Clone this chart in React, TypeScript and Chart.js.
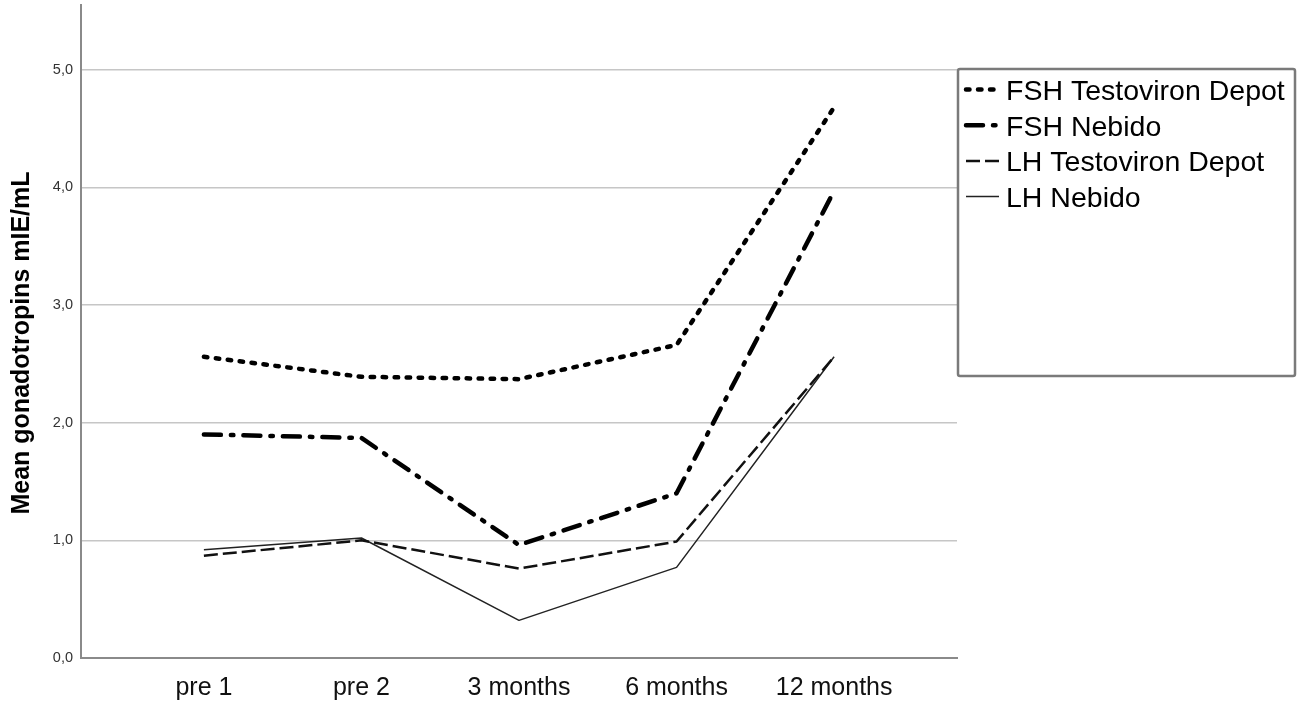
import React, { useEffect, useRef } from 'react'
import { Chart, registerables } from 'chart.js'
Chart.register(...registerables)

const categories = ['pre 1', 'pre 2', '3 months', '6 months', '12 months']
const yTicks = [0, 1, 2, 3, 4, 5]
const fshTestoviron = [2.56, 2.39, 2.37, 2.66, 4.68]
const fshNebido = [1.90, 1.87, 0.96, 1.40, 3.97]
const lhTestoviron = [0.87, 1.00, 0.76, 0.99, 2.56]
const lhNebido = [0.92, 1.02, 0.32, 0.77, 2.56]

const FONT = 'Arial, "Liberation Sans", sans-serif'
const yTitle = 'Mean gonadotropins mIE/mL'

const pts = (arr: number[]) => arr.map((v, i) => ({ x: i, y: v }))

// legend box + rotated y title, drawn by hand like the SPSS output
const extras = {
  id: 'extras',
  afterDraw(chart: any) {
    const ctx = chart.ctx as CanvasRenderingContext2D
    ctx.save()
    // y title
    ctx.translate(29, 343)
    ctx.rotate(-Math.PI / 2)
    ctx.font = `bold 25px ${FONT}`
    ctx.fillStyle = '#000'
    ctx.textAlign = 'center'
    ctx.textBaseline = 'alphabetic'
    ctx.fillText(yTitle, 0, 0)
    ctx.restore()

    ctx.save()
    ctx.strokeStyle = '#7a7a7a'
    ctx.lineWidth = 2.5
    ctx.beginPath()
    ctx.roundRect(958, 69, 337, 307, 2)
    ctx.stroke()
    ctx.font = `28.5px ${FONT}`
    ctx.textBaseline = 'alphabetic'
    ctx.textAlign = 'left'
    chart.data.datasets.forEach((ds: any, i: number) => {
      const cy = 89.5 + i * 35.7
      ctx.save()
      ctx.strokeStyle = ds.borderColor
      ctx.lineWidth = ds.borderWidth
      ctx.lineCap = ds.borderCapStyle || 'butt'
      ctx.setLineDash(ds.borderDash || [])
      ctx.beginPath()
      ctx.moveTo(966, cy)
      ctx.lineTo(999, cy)
      ctx.stroke()
      ctx.restore()
      ctx.fillStyle = '#000'
      ctx.fillText(ds.label, 1006, cy + 10.5)
    })
    ctx.restore()
  }
}

export default function App() {
  const ref = useRef<HTMLCanvasElement | null>(null)
  useEffect(() => {
    document.body.style.margin = '0'
    document.body.style.overflow = 'hidden'
    if (!ref.current) return
    const chart = new Chart(ref.current, {
      type: 'line',
      data: {
        datasets: [
          { label: 'FSH Testoviron Depot', data: pts(fshTestoviron), borderColor: '#000', borderWidth: 4.5, borderDash: [3.5, 8.5], borderCapStyle: 'round' },
          { label: 'FSH Nebido', data: pts(fshNebido), borderColor: '#000', borderWidth: 4.5, borderDash: [17, 10, 2.5, 10], borderCapStyle: 'round' },
          { label: 'LH Testoviron Depot', data: pts(lhTestoviron), borderColor: '#111', borderWidth: 2.5, borderDash: [14, 5] },
          { label: 'LH Nebido', data: pts(lhNebido), borderColor: '#222', borderWidth: 1.5 },
        ] as any
      },
      options: {
        responsive: true,
        maintainAspectRatio: false,
        animation: false,
        layout: { padding: { top: 5, right: 342, left: 0, bottom: 0 } },
        elements: { point: { radius: 0 }, line: { tension: 0, borderJoinStyle: 'round' } },
        plugins: { legend: { display: false }, tooltip: { enabled: false } },
        scales: {
          x: {
            type: 'linear',
            min: -0.78,
            max: 4.78,
            grid: { display: false },
            border: { display: true, color: '#8a8a8a', width: 2 },
            afterBuildTicks: (s: any) => { s.ticks = categories.map((_, i) => ({ value: i })) },
            afterFit: (s: any) => { s.height = 46; s.paddingLeft = 0; s.paddingRight = 0 },
            ticks: {
              autoSkip: false,
              maxRotation: 0,
              padding: 7,
              color: '#111',
              font: { family: FONT, size: 25 },
              callback: (v: any) => categories[v] ?? ''
            }
          },
          y: {
            min: 0,
            max: 5.55,
            grid: { color: '#c6c6c6', lineWidth: 1.5, drawTicks: false },
            border: { display: true, color: '#8a8a8a', width: 2 },
            afterBuildTicks: (s: any) => { s.ticks = yTicks.map(v => ({ value: v })) },
            afterFit: (s: any) => { s.width = 81; s.paddingTop = 0; s.paddingBottom = 0 },
            ticks: {
              padding: 8,
              color: '#333',
              font: { family: FONT, size: 14.5 },
              callback: (v: any) => Number(v).toFixed(1).replace('.', ',')
            }
          }
        }
      },
      plugins: [extras]
    })
    return () => chart.destroy()
  }, [])
  return <div style={{ width: 1299, height: 704 }}><canvas ref={ref} /></div>
}
